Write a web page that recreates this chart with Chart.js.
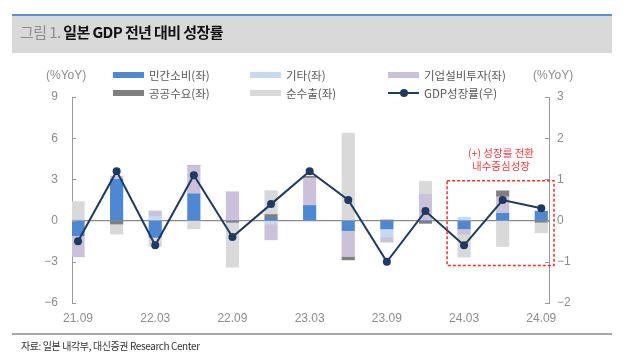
<!DOCTYPE html>
<html><head><meta charset="utf-8">
<script src="https://cdn.jsdelivr.net/npm/chart.js@4.4.1/dist/chart.umd.min.js"></script>
<style>
body{margin:0;background:#fff;width:634px;height:362px;position:relative;overflow:hidden;font-family:"Noto Sans CJK KR","Liberation Sans",sans-serif;}
.abs{position:absolute;white-space:nowrap;}
#band{left:12px;top:14px;width:600px;height:37px;background:#d9d9d9;border-top:2px solid #5b8fd6;}
#title{left:20px;top:22px;font-size:15px;letter-spacing:-0.6px;line-height:20px;}
#title .g{color:#8c8c8c;font-weight:400;}
#title .b{color:#111;font-weight:700;}
.leg{font-size:11.5px;color:#595959;line-height:14px;}
.sw{height:6px;width:31px;}
.unit{font-family:"Liberation Sans",sans-serif;font-size:12px;color:#8c8c8c;line-height:14px;}
.note{font-size:10.5px;color:#ff3b3b;line-height:13px;text-align:center;width:100px;}
#rule{left:12px;top:333px;width:600px;height:1.5px;background:#a6a6a6;}
#foot{left:21px;top:339px;font-size:10px;color:#333;letter-spacing:-0.4px;line-height:14px;}
</style></head><body>
<canvas id="c" width="634" height="362" style="position:absolute;left:0;top:0"></canvas>
<div class="abs" id="band"></div>
<div class="abs" id="title"><span class="g">그림 1. </span><span class="b">일본 GDP 전년 대비 성장률</span></div>
<div class="abs unit" style="left:46px;top:68px">(%YoY)</div>
<div class="abs unit" style="left:533px;top:68px">(%YoY)</div>
<div id="legend"></div>
<div class="abs note" style="left:451px;top:146px">(+) 성장률 전환<br>내수중심성장</div>
<div class="abs" id="rule"></div>
<div class="abs" id="foot">자료: 일본 내각부, 대신증권 Research Center</div>
<script>
const categories = ["21.09","21.12","22.03","22.06","22.09","22.12","23.03","23.06","23.09","23.12","24.03","24.06","24.09"];
const privateConsumption = [-1.1, 3.0, -1.2, 1.95, 0, 0.17, 1.1, -0.73, -0.6, 0, -0.6, 0.53, 0.68];
const others             = [0.1, 0, 0.3, 0, 0, -0.25, 0, 0, -0.6, 0, 0.25, 0, 0];
const businessInvestment = [-1.53, 0.24, 0.4, 2.05, 2.1, -1.15, 2.0, -1.89, -0.36, 1.9, -0.36, 1.2, 0];
const publicDemand       = [0, -0.25, 0, 0, -0.12, 0.27, 0.12, -0.24, 0.05, -0.2, 0, 0.44, -0.12];
const netExports         = [1.28, -0.73, -0.68, -0.6, -3.27, 1.74, 0, 6.37, 0, 0.97, -1.7, -1.89, -0.77];
const gdpGrowth          = [-0.5, 1.2, -0.6, 1.1, -0.4, 0.4, 1.2, 0.5, -1.0, 0.23, -0.6, 0.5, 0.3];
const xTickLabels = ["21.09","22.03","22.09","23.03","23.09","24.03","24.09"];
const leftTicks = [-6,-3,0,3,6,9];
const rightTicks = [-2,-1,0,1,2,3];

const seriesNames = ["민간소비(좌)","기타(좌)","기업설비투자(좌)","공공수요(좌)","순수출(좌)","GDP성장률(우)"];
const colors = ["#4f88d2","#c6d9f1","#ccc1da","#7f7f7f","#d9d9d9","#1f3a60"];

// legend (HTML)
const legPos = [[113,75],[250,75],[388,75],[113,93],[250,93],[388,93]];
const legEl = document.getElementById('legend');
seriesNames.forEach((n,i)=>{
  const [x,y] = legPos[i];
  if(i<5){
    const s=document.createElement('div'); s.className='abs sw';
    s.style.left=x+'px'; s.style.top=(y-3)+'px'; s.style.background=colors[i]; legEl.appendChild(s);
  } else {
    const l=document.createElement('div'); l.className='abs';
    l.style.cssText=`left:${x}px;top:${y-1}px;width:31px;height:2px;background:${colors[i]}`; legEl.appendChild(l);
    const d=document.createElement('div'); d.className='abs';
    d.style.cssText=`left:${x+12}px;top:${y-4}px;width:8px;height:8px;border-radius:50%;background:${colors[i]}`; legEl.appendChild(d);
  }
  const t=document.createElement('div'); t.className='abs leg';
  t.style.left=(x+36)+'px'; t.style.top=(y-7)+'px'; t.textContent=n; legEl.appendChild(t);
});

const toXY = arr => arr.map((v,i)=>({x:i,y:v}));
const barSeries = [privateConsumption, others, businessInvestment, publicDemand, netExports];
const datasets = barSeries.map((arr,i)=>({
  type:'bar', label:seriesNames[i], data:toXY(arr), backgroundColor:colors[i],
  yAxisID:'y', stack:'s', barThickness:12.5, order:1, borderWidth:0
}));
datasets.push({
  type:'line', label:seriesNames[5], data:toXY(gdpGrowth), yAxisID:'y2',
  borderColor:colors[5], backgroundColor:colors[5], borderWidth:2, tension:0,
  pointRadius:4, pointBackgroundColor:colors[5], pointBorderWidth:0, order:0
});

const annoBox = {x0:9.56, x1:12.33, y0:-1.09, y1:0.97};

const decor = {
  id:'decor',
  afterDraw(chart){
    const ctx=chart.ctx, a=chart.chartArea, ys=chart.scales.y, y2=chart.scales.y2, xs=chart.scales.x;
    ctx.save();
    ctx.strokeStyle='#999'; ctx.lineWidth=1;
    leftTicks.forEach(v=>{const p=Math.round(ys.getPixelForValue(v))+0.5; ctx.beginPath(); ctx.moveTo(a.left,p); ctx.lineTo(a.left+4,p); ctx.stroke();});
    rightTicks.forEach(v=>{const p=Math.round(y2.getPixelForValue(v))+0.5; ctx.beginPath(); ctx.moveTo(a.right,p); ctx.lineTo(a.right-4,p); ctx.stroke();});
    // dashed annotation box
    ctx.strokeStyle='#ff2a2a'; ctx.lineWidth=1.5; ctx.setLineDash([3,2]);
    const bx0=xs.getPixelForValue(annoBox.x0), bx1=xs.getPixelForValue(annoBox.x1);
    const by0=y2.getPixelForValue(annoBox.y1), by1=y2.getPixelForValue(annoBox.y0);
    ctx.strokeRect(bx0,by0,bx1-bx0,by1-by0);
    ctx.restore();
  }
};

new Chart(document.getElementById('c'),{
  type:'bar',
  data:{datasets},
  plugins:[decor],
  options:{
    responsive:false, devicePixelRatio:1, animation:false,
    layout:{padding:{top:97,left:0,right:0,bottom:0}},
    plugins:{legend:{display:false},tooltip:{enabled:false}},
    scales:{
      x:{type:'linear', stacked:true, offset:false, min:-0.156, max:12.2,
        grid:{display:false, drawTicks:false}, border:{display:false},
        afterBuildTicks:s=>{s.ticks=xTickLabels.map(l=>({value:categories.indexOf(l)}));},
        afterFit:s=>{s.height=59;},
        ticks:{autoSkip:false, maxRotation:0, padding:8, color:'#8c8c8c',
          font:{family:'"Liberation Sans", sans-serif', size:12},
          callback:v=>categories[v]}
      },
      y:{position:'left', stacked:true, min:-6, max:9,
        afterBuildTicks:s=>{s.ticks=leftTicks.map(v=>({value:v}));},
        afterFit:s=>{s.width=72;},
        grid:{drawTicks:false, color:c=>c.tick && c.tick.value===0 ? '#8c8c8c':'rgba(0,0,0,0)', lineWidth:1.2},
        border:{display:true, color:'#999', width:1},
        ticks:{padding:14, color:'#8c8c8c', font:{family:'"Liberation Sans", sans-serif', size:12},
          callback:v=>v<0?'\u2212'+Math.abs(v):String(v)}
      },
      y2:{position:'right', min:-2, max:3,
        afterBuildTicks:s=>{s.ticks=rightTicks.map(v=>({value:v}));},
        afterFit:s=>{s.width=85;},
        grid:{display:false, drawTicks:false},
        border:{display:true, color:'#999', width:1},
        ticks:{padding:8, color:'#8c8c8c', font:{family:'"Liberation Sans", sans-serif', size:12},
          callback:v=>v<0?'\u2212'+Math.abs(v):String(v)}
      }
    }
  }
});
</script>
</body></html>
